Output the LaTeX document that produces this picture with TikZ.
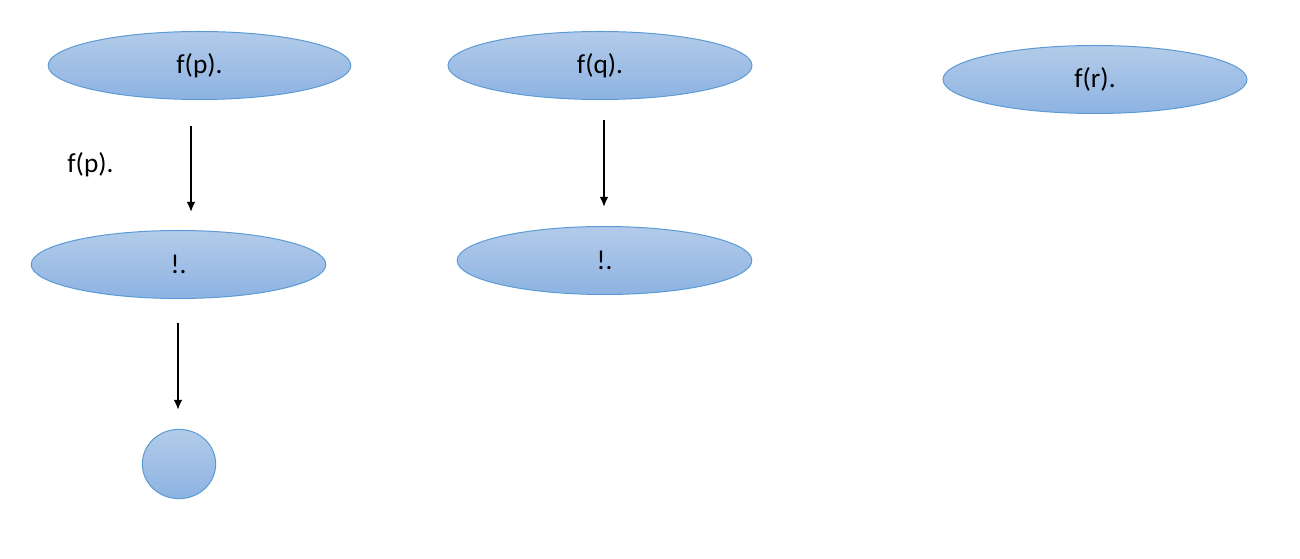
\documentclass[tikz,border=0pt]{standalone}
\usepackage{fontspec}
\setmainfont{Carlito}
\usetikzlibrary{shapes.geometric,arrows.meta}

\tikzset{
    blob/.style={ellipse, draw=blobline, line width=0.75pt, top color=blobtop, bottom color=blobbot,
        inner sep=0pt, minimum width=#1, minimum height=51pt, font=\fontsize{20.5}{24}\selectfont},
    blob/.default=227pt,
    arr/.style={-{Latex[length=7.5pt,width=6.5pt]}, line width=1.3pt},
}
\definecolor{blobline}{HTML}{5B9BD5}
\definecolor{blobtop}{HTML}{B3CBE9}
\definecolor{blobbot}{HTML}{8DB3E2}

\begin{document}
\begin{tikzpicture}[x=0.75pt, y=-0.75pt]
                \useasboundingbox (0, 0) rectangle (1300, 559);

                \node[blob=227pt] (fp) at (199.5, 65.5) {f(p).};
                \node[blob=228pt] (fq) at (600, 65.5) {f(q).};
                \node[blob=228pt] (fr) at (1095, 79.5) {f(r).};
                \node[blob=221pt] (bangp) at (178.5, 264.5) {!.};
                \node[blob=221pt] (bangq) at (604.5, 260.5) {!.};
                \node[blob=55pt, minimum height=52pt] (leaf) at (179, 464) {};

                \node[font=\fontsize{20.5}{24}\selectfont] (lab) at (90.5, 165) {f(p).};

                \draw[arr] ([shift={(-8.5, 26)}]fp.south) -- ([shift={(12.5, -18)}]bangp.north);
                \draw[arr] ([shift={(4, 20)}]fq.south) -- ([shift={(-0.5, -19)}]bangq.north);
                \draw[arr] ([shift={(-0.5, 24)}]bangp.south) -- ([shift={(-1, -19)}]leaf.north);
            \end{tikzpicture}
\end{document}
